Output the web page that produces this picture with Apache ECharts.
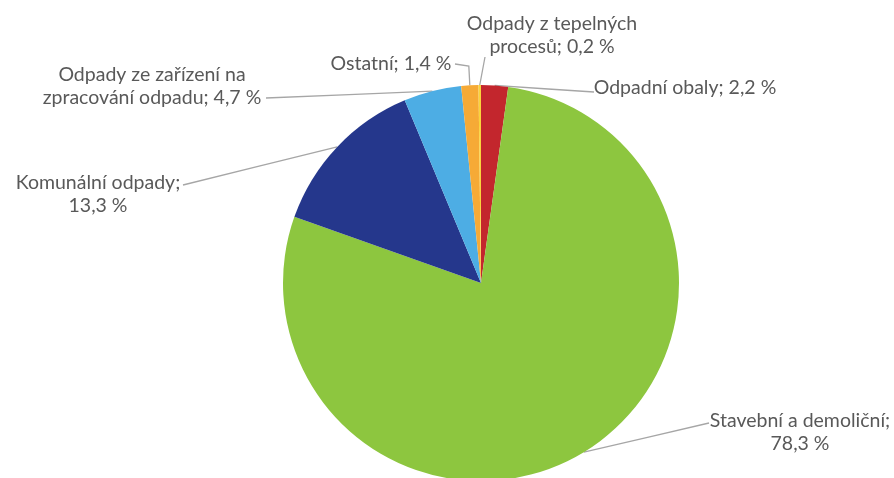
<!DOCTYPE html>
<html>
<head>
<meta charset="utf-8">
<script src="https://cdn.jsdelivr.net/npm/echarts@6/dist/echarts.min.js"></script>
<style>
html,body{margin:0;padding:0;background:#fff;}
#chart{width:894px;height:478px;}
</style>
</head>
<body>
<div id="chart"></div>
<script>
const categories = [
  'Odpadní obaly',
  'Stavební a demoliční',
  'Komunální odpady',
  'Odpady ze zařízení na zpracování odpadu',
  'Ostatní',
  'Odpady z tepelných procesů'
];
const values = [2.2, 78.3, 13.3, 4.7, 1.4, 0.2];
const labelTexts = [
  'Odpadní obaly; 2,2 %',
  'Stavební a demoliční;\n78,3 %',
  'Komunální odpady;\n13,3 %',
  'Odpady ze zařízení na\nzpracování odpadu; 4,7 %',
  'Ostatní; 1,4 %',
  'Odpady z tepelných\nprocesů; 0,2 %'
];
const colors = ['#C3262D', '#8DC63F', '#25378C', '#4DADE4', '#F6AA36', '#F9D43C'];

// label layout (positions only): label centre and leader-line end
const labelPos = [
  [685, 88], [800, 432], [98, 194], [152, 86], [391, 64], [552, 35]
];
const leaderEnd = [
  [594, 92], [709, 423], [183, 185], [266, 98], [455, 64], [485, 57]
];

const chart = echarts.init(document.getElementById('chart'));
chart.setOption({
  animation: false,
  backgroundColor: '#ffffff',
  series: [{
    type: 'pie',
    center: [481, 283],
    radius: 198,
    startAngle: 90,
    clockwise: true,
    avoidLabelOverlap: false,
    data: categories.map((c, i) => ({
      name: c,
      value: values[i],
      itemStyle: { color: colors[i] },
      label: { formatter: labelTexts[i] }
    })),
    label: {
      show: true,
      position: 'outside',
      fontFamily: 'Lato',
      fontSize: 19.5,
      lineHeight: 23,
      color: '#595959',
      align: 'center'
    },
    labelLine: {
      show: true,
      length: 10,
      length2: 10,
      lineStyle: { color: '#A6A6A6', width: 1.3 }
    },
    labelLayout: function (p) {
      const i = p.dataIndex;
      const pos = labelPos[i];
      const start = p.labelLinePoints ? p.labelLinePoints[0] : [481, 85];
      const end = leaderEnd[i];
      let mid;
      if (i === 4) {
        mid = [start[0] - 1, end[1] + 2];
      } else if (i === 5) {
        mid = [(start[0] + end[0]) / 2, (start[1] + end[1]) / 2];
      } else {
        mid = [(start[0] + end[0]) / 2, (start[1] + end[1]) / 2];
      }
      return {
        x: pos[0], y: pos[1], align: 'center', verticalAlign: 'middle',
        labelLinePoints: [start, mid, end]
      };
    }
  }]
});
</script>
</body>
</html>
